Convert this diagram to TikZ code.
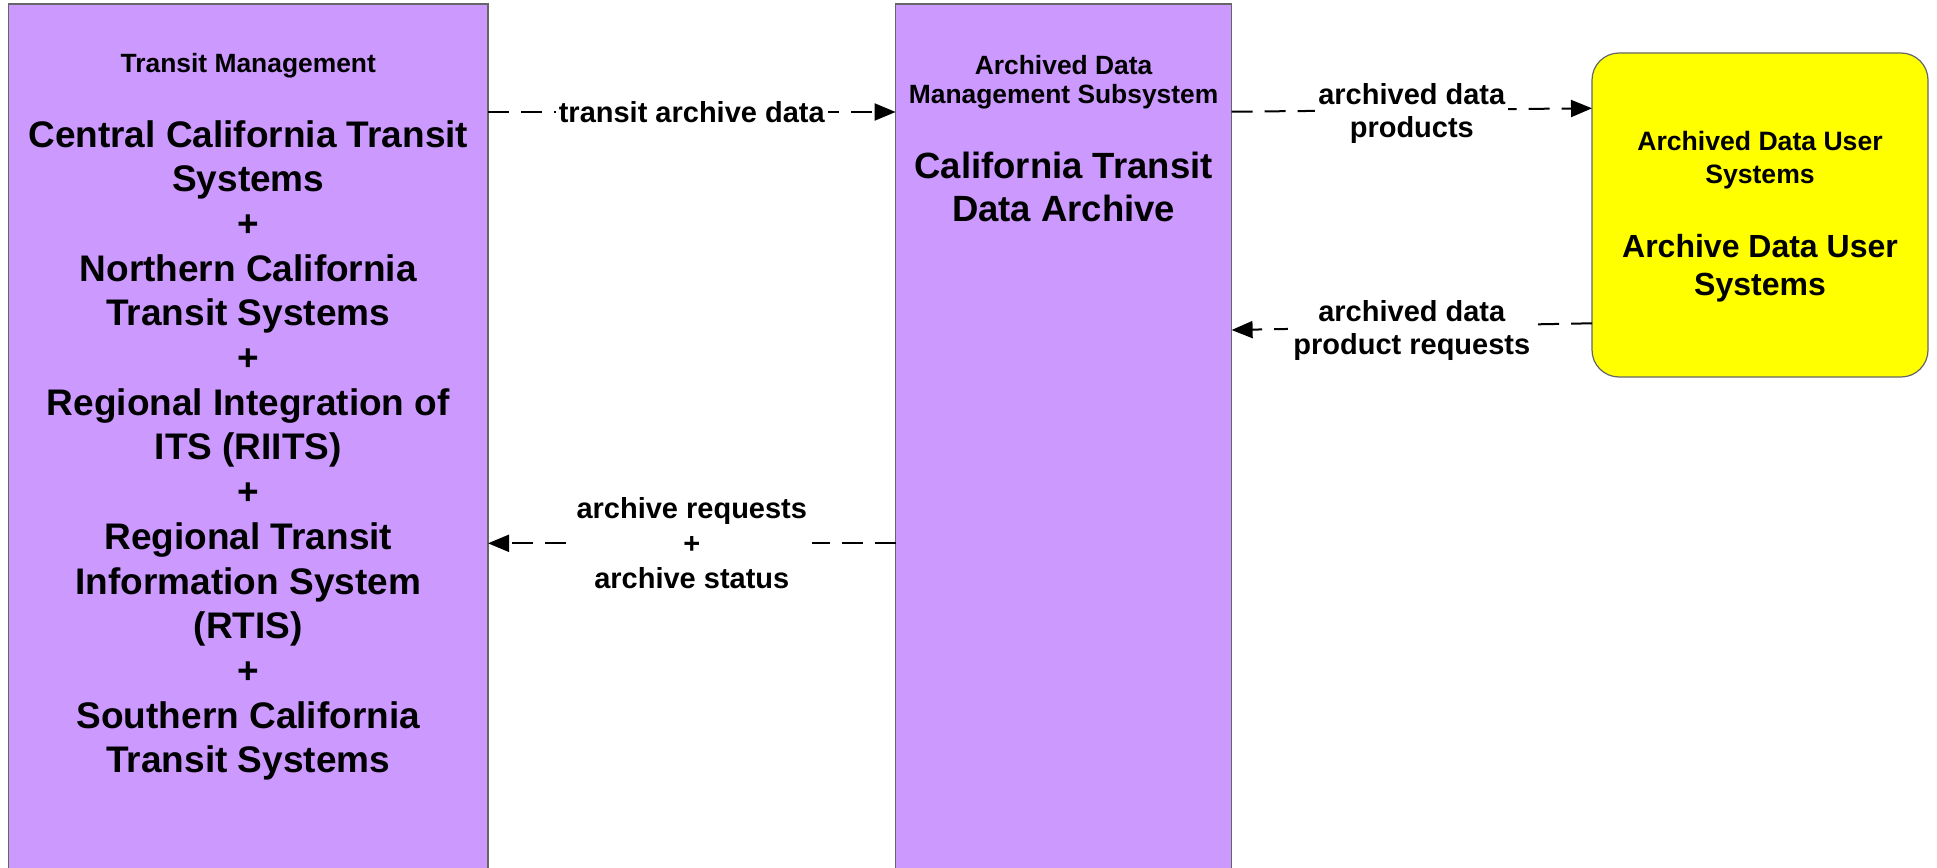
\documentclass[tikz,border=0pt]{standalone}
\usepackage{fontspec}
\setmainfont{Liberation Sans}
\usetikzlibrary{arrows.meta}
\definecolor{boxpurple}{HTML}{CC99FF}
\definecolor{boxyellow}{HTML}{FFFF00}
\begin{document}
\begin{tikzpicture}[x=1pt,y=-1pt,
  sysbox/.style={draw=black!60, line width=1.2pt, inner sep=0pt, outer sep=0pt},
  flow/.style={line width=2pt, dash pattern=on 21pt off 12pt, -{Triangle[length=21pt,width=17pt]}},
  flowlabel/.style={fill=white, inner xsep=3pt, inner ysep=1pt, align=center, text=black, font=\bfseries\fontsize{29}{35}\selectfont},
  twolabel/.style={flowlabel, yshift=-3.5pt, font=\bfseries\fontsize{29}{33}\selectfont},
  hdr/.style={anchor=north, inner sep=0pt, align=center, text=black, font=\bfseries\fontsize{26.4}{29.6}\selectfont},
]
\useasboundingbox (0,0) rectangle (1937,867);
\clip (0,0) rectangle (1937,867);
\fill[white] (0,0) rectangle (1937,867);
% boxes
\node[sysbox, fill=boxpurple, minimum width=479.4pt, minimum height=876pt] (tm) at (248.3,442) {};
\node[sysbox, fill=boxpurple, minimum width=336pt, minimum height=876pt] (adm) at (1063.6,442) {};
\node[sysbox, fill=boxyellow, rounded corners=27pt, minimum width=336pt, minimum height=324pt] (adu) at (1760,215) {};
% connectors
\draw[flow] (tm.east |- 0,112) -- node[flowlabel] (l1) {transit archive data} (adm.west |- 0,112);
\draw[flow] (adm.east |- 0,111.7) -- node[twolabel] (l2) {archived data\\products} (adu.west |- 0,108.3);
\draw[flow] (adu.west |- 0,323.3) -- node[twolabel, inner xsep=5pt] (l3) {archived data\\product requests} (adm.east |- 0,330);
\draw[flow] (adm.west |- 0,543.3) -- node[flowlabel, inner xsep=5pt] (l4) {archive requests\\+\\archive status} (tm.east |- 0,543.3);
% texts
\node[hdr] (tmh) at (248.3,53.5) {Transit Management};
\node[hdr, font=\bfseries\fontsize{37}{44.7}\selectfont] (tmb) at (248.3,120) {Central California Transit\\Systems\\+\\Northern California\\Transit Systems\\+\\Regional Integration of\\ITS (RIITS)\\+\\Regional Transit\\Information System\\(RTIS)\\+\\Southern California\\Transit Systems};
\node[hdr] (admh) at (1063.6,55) {Archived Data\\Management Subsystem};
\node[hdr, font=\bfseries\fontsize{36.5}{43.3}\selectfont] (admb) at (1063.6,151.7) {California Transit\\Data Archive};
\node[hdr, font=\bfseries\fontsize{26.6}{33}\selectfont] (aduh) at (1760,131.4) {Archived Data User\\Systems};
\node[hdr, font=\bfseries\fontsize{32}{38}\selectfont] (adub) at (1760,234.5) {Archive Data User\\Systems};
\end{tikzpicture}
\end{document}
